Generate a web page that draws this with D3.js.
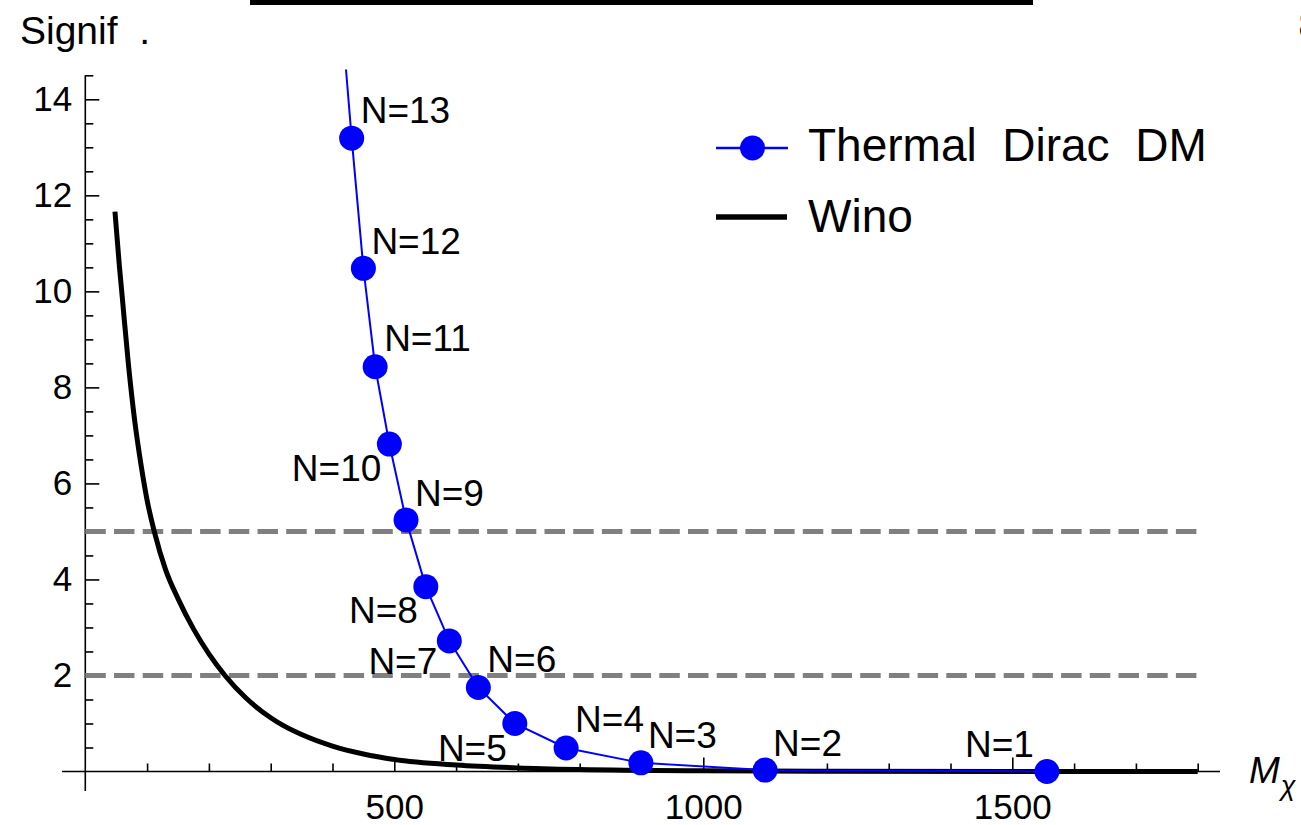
<!DOCTYPE html>
<html>
<head>
<meta charset="utf-8">
<script src="https://cdn.jsdelivr.net/npm/d3@7"></script>
<style>
    body { margin: 0; background: #fff; }
    text { font-family: "Liberation Sans", Arial, sans-serif; fill: #000; }
</style>
</head>
<body>
<div id="chart"></div>
<script>
// Thermal Dirac DM, one point per N
var diracN = [1, 2, 3, 4, 5, 6, 7, 8, 9, 10, 11, 12, 13];
var diracMass = [1556, 1100, 899, 778, 695, 636, 589, 551, 519, 492, 469, 450, 431];
var diracSignif = [0.0, 0.03, 0.18, 0.49, 1.0, 1.75, 2.72, 3.85, 5.24, 6.82, 8.43, 10.48, 13.19];
// the blue line runs on past the top of the frame
var diracTailMass = [413];
var diracTailSignif = [16.0];

// Wino curve
var winoMass = [48, 55, 60, 70, 80, 90, 100, 112, 130, 150, 175, 200, 226, 260, 300, 320, 350, 400, 450, 500, 600, 700, 800, 1000, 1200, 1500, 1800];
var winoSignif = [11.66, 10.55, 9.85, 8.45, 7.3, 6.4, 5.65, 4.98, 4.2, 3.6, 2.97, 2.45, 2.0, 1.53, 1.12, 0.96, 0.77, 0.53, 0.365, 0.25, 0.135, 0.075, 0.042, 0.014, 0.005, 0.001, 0.0];

// dashed significance levels
var guideLevels = [2, 5];

var xTickLabels = [500, 1000, 1500];
var yTickLabels = [2, 4, 6, 8, 10, 12, 14];

var legendNames = ["Thermal  Dirac  DM", "Wino"];

(function() {
    var W = 1301, H = 825;

    // where each "N=" label sits relative to its dot: dx, dy, anchor
    var labelPlace = {
        1: [-13, -15, "end"],
        2: [8, -14, "start"],
        3: [7, -15, "start"],
        4: [9, -16, "start"],
        5: [-8, 38, "end"],
        6: [9, -15, "start"],
        7: [-12, 33, "end"],
        8: [-8, 36, "end"],
        9: [9, -14, "start"],
        10: [-8, 37, "end"],
        11: [9, -16, "start"],
        12: [8, -14, "start"],
        13: [9, -15, "start"]
    };

    var svg = d3.select("#chart").append("svg")
        .attr("width", W)
        .attr("height", H);

    svg.append("rect").attr("width", W).attr("height", H).attr("fill", "#fff");

    var x = d3.scaleLinear().domain([0, 1800]).range([85.3, 1197.7]);
    var y = d3.scaleLinear().domain([0, 14]).range([771.5, 99.3]);

    // stray bits cut off at the top of the image
    svg.append("rect")
        .attr("x", 250).attr("y", 0)
        .attr("width", 783).attr("height", 5)
        .attr("fill", "#000");
    svg.append("text")
        .attr("x", 1298.5).attr("y", 38)
        .attr("font-size", 36)
        .attr("fill", "#999")
        .text("8");

    svg.append("defs").append("clipPath").attr("id", "plotclip")
        .append("rect")
        .attr("x", 60).attr("y", y(14.62))
        .attr("width", 1170).attr("height", 790 - y(14.62));

    // axes
    var axes = svg.append("g");

    axes.append("line")
        .attr("x1", 62).attr("x2", 1220)
        .attr("y1", y(0)).attr("y2", y(0))
        .attr("stroke", "#000").attr("stroke-width", 1.6);
    axes.append("line")
        .attr("x1", x(0)).attr("x2", x(0))
        .attr("y1", y(14.5)).attr("y2", 791)
        .attr("stroke", "#000").attr("stroke-width", 1.6);

    var xMinor = d3.range(100, 1801, 100).filter(function(d) { return xTickLabels.indexOf(d) < 0; });
    var yMinor = d3.range(0.5, 14.6, 0.5).filter(function(d) { return yTickLabels.indexOf(d) < 0; });

    axes.append("g")
        .attr("transform", "translate(0," + y(0) + ")")
        .call(d3.axisBottom(x).tickValues(xMinor).tickSizeInner(-8).tickSizeOuter(0).tickFormat(""));
    axes.append("g")
        .attr("transform", "translate(0," + y(0) + ")")
        .call(d3.axisBottom(x).tickValues(xTickLabels).tickSizeInner(-14).tickSizeOuter(0)
            .tickPadding(23).tickFormat(d3.format("d")));
    axes.append("g")
        .attr("transform", "translate(" + x(0) + ",0)")
        .call(d3.axisLeft(y).tickValues(yMinor).tickSizeInner(-8).tickSizeOuter(0).tickFormat(""));
    axes.append("g")
        .attr("transform", "translate(" + x(0) + ",0)")
        .call(d3.axisLeft(y).tickValues(yTickLabels).tickSizeInner(-14).tickSizeOuter(0).tickPadding(13));

    axes.selectAll(".domain").remove();
    axes.selectAll(".tick line").attr("stroke", "#000").attr("stroke-width", 1.6);
    axes.selectAll(".tick text")
        .attr("font-size", 35)
        .attr("font-family", "Liberation Sans, Arial, sans-serif")
        .attr("fill", "#000");

    // axis titles
    svg.append("text")
        .attr("x", 20).attr("y", 44)
        .attr("font-size", 39)
        .style("white-space", "pre")
        .text("Signif  .");

    var mx = svg.append("text")
        .attr("x", 1249).attr("y", 783)
        .attr("font-size", 37)
        .attr("font-style", "italic");
    mx.append("tspan").text("M");
    mx.append("tspan").attr("font-size", 27).attr("dy", 12).attr("dx", 1).text("\u03c7");

    var plot = svg.append("g").attr("clip-path", "url(#plotclip)");

    plot.selectAll(".guide")
        .data(guideLevels)
        .enter().append("line")
        .attr("class", "guide")
        .attr("x1", x(0)).attr("x2", x(1800))
        .attr("y1", function(d) { return y(d); })
        .attr("y2", function(d) { return y(d); })
        .attr("stroke", "#808080")
        .attr("stroke-width", 5)
        .attr("stroke-dasharray", "20.5,8.2");

    var wino = winoMass.map(function(m, i) { return [m, winoSignif[i]]; });
    plot.append("path")
        .datum(wino)
        .attr("fill", "none")
        .attr("stroke", "#000")
        .attr("stroke-width", 5)
        .attr("d", d3.line()
            .curve(d3.curveMonotoneX)
            .x(function(d) { return x(d[0]); })
            .y(function(d) { return y(d[1]); }));

    var dirac = diracN.map(function(n, i) {
        return { n: n, m: diracMass[i], s: diracSignif[i] };
    });
    var diracLine = dirac.concat(diracTailMass.map(function(m, i) {
        return { n: null, m: m, s: diracTailSignif[i] };
    }));

    plot.append("path")
        .datum(diracLine)
        .attr("fill", "none")
        .attr("stroke", "#0000ff")
        .attr("stroke-width", 2)
        .attr("d", d3.line()
            .x(function(d) { return x(d.m); })
            .y(function(d) { return y(d.s); }));

    plot.selectAll(".dot")
        .data(dirac)
        .enter().append("circle")
        .attr("class", "dot")
        .attr("cx", function(d) { return x(d.m); })
        .attr("cy", function(d) { return y(d.s); })
        .attr("r", 12.5)
        .attr("fill", "#0000ff");

    svg.append("g").selectAll("text")
        .data(dirac)
        .enter().append("text")
        .attr("x", function(d) { return x(d.m) + labelPlace[d.n][0]; })
        .attr("y", function(d) { return y(d.s) + labelPlace[d.n][1]; })
        .attr("text-anchor", function(d) { return labelPlace[d.n][2]; })
        .attr("font-size", 37)
        .text(function(d) { return "N=" + d.n; });

    // legend
    var legend = svg.append("g").attr("transform", "translate(716,148)");

    legend.append("line")
        .attr("x1", 0).attr("x2", 72).attr("y1", 0).attr("y2", 0)
        .attr("stroke", "#0000ff").attr("stroke-width", 2.5);
    legend.append("circle")
        .attr("cx", 36.5).attr("cy", 0).attr("r", 12.5)
        .attr("fill", "#0000ff");
    legend.append("line")
        .attr("x1", 0).attr("x2", 71).attr("y1", 69).attr("y2", 69)
        .attr("stroke", "#000").attr("stroke-width", 5.5);

    legend.selectAll(".legend-text")
        .data(legendNames)
        .enter().append("text")
        .attr("class", "legend-text")
        .attr("x", 92)
        .attr("y", function(d, i) { return 13 + i * 71; })
        .attr("font-size", 46)
        .style("white-space", "pre")
        .text(function(d) { return d; });
})();
</script>
</body>
</html>
